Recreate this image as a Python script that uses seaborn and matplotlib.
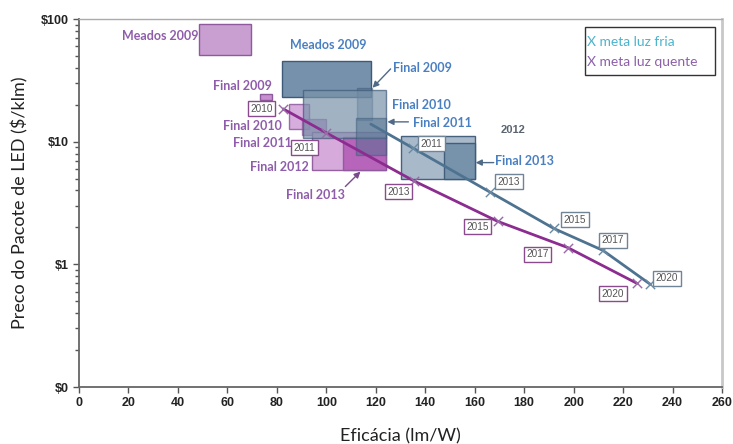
import matplotlib
matplotlib.use("Agg")
import matplotlib.pyplot as plt
from matplotlib.patches import Rectangle
import seaborn as sns
import pandas as pd

# ---------------- data ----------------
cool_years = ["2011", "2013", "2015", "2017", "2020"]
cool_eff = [134.9, 166.0, 192.0, 211.8, 230.9]
cool_price = [8.9, 3.9, 1.96, 1.30, 0.69]
cool_line_start = (118.0, 13.9)

warm_years = ["2010", "2011", "2013", "2015", "2017", "2020"]
warm_eff = [82.6, 100.0, 135.3, 169.3, 197.6, 225.6]
warm_price = [18.5, 11.8, 4.8, 2.24, 1.37, 0.70]

# year tag positions (eff, price)
cool_tag_x = [142.6, 173.8, 200.5, 215.9, 237.7]
cool_tag_y = [9.6, 4.7, 2.32, 1.57, 0.77]
warm_tag_x = [73.7, 91.1, 129.2, 161.2, 185.5, 215.9]
warm_tag_y = [18.5, 8.9, 3.9, 2.03, 1.21, 0.578]

# boxes: name, x0, x1, y0, y1
warm_box_names = ["Meados 2009", "Final 2009", "Final 2010", "Final 2011", "Final 2012", "Final 2013"]
warm_box_x0 = [48.6, 73.3, 85.0, 90.0, 94.4, 106.9]
warm_box_x1 = [69.7, 78.2, 93.2, 100.0, 124.3, 124.3]
warm_box_y0 = [51.0, 22.0, 12.7, 11.4, 5.9, 5.9]
warm_box_y1 = [91.0, 24.6, 20.4, 15.4, 12.0, 11.0]

cool_box_names = ["Meados 2009", "Final 2009", "Final 2010", "Final 2011", "2012", "Final 2013"]
cool_box_x0 = [82.2, 112.6, 90.7, 112.2, 130.0, 147.4]
cool_box_x1 = [117.9, 118.3, 124.3, 124.3, 160.0, 160.0]
cool_box_y0 = [23.2, 15.1, 10.8, 7.8, 5.0, 5.0]
cool_box_y1 = [45.5, 27.5, 26.5, 15.7, 11.2, 9.8]

x_ticks = list(range(0, 261, 20))
y_ticks = [0.1, 1, 10, 100]
y_tick_labels = ["\\$0", "\\$1", "\\$10", "\\$100"]

# ---------------- style ----------------
sns.set_theme(style="white")
plt.rcParams["font.family"] = ["Lato", "DejaVu Sans"]

PURPLE_TXT = "#8f5dab"
BLUE_TXT = "#4a80c2"
COOL_LINE = "#4e7391"
WARM_LINE = "#8c2c90"

fig = plt.figure(figsize=(7.33, 4.44), dpi=100)
ax = fig.add_axes([79 / 733, 1 - 387 / 444, (722 - 79) / 733, (387 - 19) / 444])
ax.set_yscale("log")
ax.set_xlim(0, 260)
ax.set_ylim(0.1, 100)

# warm boxes
warm_face = ["#c99fd2", "#c78fd0", "#cf9fd8", "#b877c4", "#d4a6d8", "#b562b9"]
warm_alpha = [1.0, 1.0, 0.85, 0.7, 0.95, 0.95]
for i in range(len(warm_box_names)):
    ax.add_patch(Rectangle((warm_box_x0[i], warm_box_y0[i]),
                           warm_box_x1[i] - warm_box_x0[i], warm_box_y1[i] - warm_box_y0[i],
                           facecolor=warm_face[i], edgecolor="#8e5a9c", lw=1.0,
                           alpha=warm_alpha[i], zorder=2))

# cool boxes
cool_face = ["#7691ab", "#4f6f8f", "#7a93aa", "#4e6f8f", "#a3b5c6", "#7590aa"]
cool_alpha = [1.0, 0.5, 0.7, 0.5, 0.95, 0.95]
for i in range(len(cool_box_names)):
    ax.add_patch(Rectangle((cool_box_x0[i], cool_box_y0[i]),
                           cool_box_x1[i] - cool_box_x0[i], cool_box_y1[i] - cool_box_y0[i],
                           facecolor=cool_face[i], edgecolor="#3d5a78", lw=1.0,
                           alpha=cool_alpha[i], zorder=3))

# lines
df_cool = pd.DataFrame({"eff": [cool_line_start[0]] + cool_eff,
                        "price": [cool_line_start[1]] + cool_price})
df_warm = pd.DataFrame({"eff": warm_eff, "price": warm_price})
sns.lineplot(data=df_cool, x="eff", y="price", sort=False, estimator=None,
             color=COOL_LINE, lw=2.0, ax=ax, zorder=5)
sns.lineplot(data=df_warm, x="eff", y="price", sort=False, estimator=None,
             color=WARM_LINE, lw=2.0, ax=ax, zorder=5)
sns.scatterplot(x=cool_eff, y=cool_price, marker="x", color="#6a8aa4", s=45,
                linewidth=1.0, ax=ax, zorder=6)
sns.scatterplot(x=warm_eff, y=warm_price, marker="x", color="#9a6aa6", s=45,
                linewidth=1.0, ax=ax, zorder=6)

# year tags
tag_family = ["Liberation Sans", "DejaVu Sans"]
for t, x, y in zip(cool_years, cool_tag_x, cool_tag_y):
    ax.text(x, y, t, fontsize=7.2, color="#555555", family=tag_family,
            ha="center", va="center", zorder=7,
            bbox=dict(boxstyle="square,pad=0.25", fc="white", ec="#6f8496", lw=1.0))
for t, x, y in zip(warm_years, warm_tag_x, warm_tag_y):
    ax.text(x, y, t, fontsize=7.2, color="#555555", family=tag_family,
            ha="center", va="center", zorder=7,
            bbox=dict(boxstyle="square,pad=0.25", fc="white", ec="#8a4a8e", lw=1.0))

# box annotations
fs = 9.0
ax.text(48.2, 72.9, "Meados 2009", color=PURPLE_TXT, fontsize=fs, fontweight="bold", ha="right", va="center")
ax.text(77.8, 28.5, "Final 2009", color=PURPLE_TXT, fontsize=fs, fontweight="bold", ha="right", va="center")
ax.text(82.2, 13.5, "Final 2010", color=PURPLE_TXT, fontsize=fs, fontweight="bold", ha="right", va="center")
ax.text(85.9, 9.8, "Final 2011", color=PURPLE_TXT, fontsize=fs, fontweight="bold", ha="right", va="center")
ax.text(92.8, 6.26, "Final 2012", color=PURPLE_TXT, fontsize=fs, fontweight="bold", ha="right", va="center")
ax.text(95.6, 3.7, "Final 2013", color=PURPLE_TXT, fontsize=fs, fontweight="bold", ha="center", va="center")

ax.text(100.8, 61.5, "Meados 2009", color=BLUE_TXT, fontsize=fs, fontweight="bold", ha="center", va="center")
ax.text(126.8, 40.0, "Final 2009", color=BLUE_TXT, fontsize=fs, fontweight="bold", ha="left", va="center")
ax.text(126.4, 20.0, "Final 2010", color=BLUE_TXT, fontsize=fs, fontweight="bold", ha="left", va="center")
ax.text(134.9, 14.3, "Final 2011", color=BLUE_TXT, fontsize=fs, fontweight="bold", ha="left", va="center")
ax.text(175.4, 12.5, "2012", color="#5b6470", fontsize=8, fontweight="heavy",
        family=["Liberation Sans", "DejaVu Sans"], ha="center", va="center")
ax.text(168.1, 7.0, "Final 2013", color=BLUE_TXT, fontsize=fs, fontweight="bold", ha="left", va="center")

arrow_blue = dict(arrowstyle="-|>", color="#4e6a86", lw=1.0, mutation_scale=9, shrinkA=0, shrinkB=0)
arrow_purple = dict(arrowstyle="-|>", color="#7a4a8c", lw=1.0, mutation_scale=9, shrinkA=0, shrinkB=0)
ax.annotate("", xy=(118.7, 27.5), xytext=(126.0, 39.2), arrowprops=arrow_blue, zorder=8)
ax.annotate("", xy=(124.7, 14.5), xytext=(133.2, 14.5), arrowprops=arrow_blue, zorder=8)
ax.annotate("", xy=(160.4, 6.75), xytext=(167.7, 6.75), arrowprops=arrow_blue, zorder=8)
ax.annotate("", xy=(113.8, 5.7), xytext=(107.7, 4.31), arrowprops=arrow_purple, zorder=8)

# legend box
ax.add_patch(Rectangle((0.787, 0.848), 0.202, 0.130, transform=ax.transAxes,
                       facecolor="white", edgecolor="#333333", lw=1.0, zorder=9))
ax.text(0.790, 0.9375, "X meta luz fria", transform=ax.transAxes, color="#4cb4cc",
        fontsize=10, ha="left", va="center", zorder=10)
ax.text(0.790, 0.883, "X meta luz quente", transform=ax.transAxes, color="#8e60aa",
        fontsize=10, ha="left", va="center", zorder=10)

# axes styling
ax.set_xticks(x_ticks)
ax.set_xticklabels([str(v) for v in x_ticks])
ax.set_yticks(y_ticks)
ax.set_yticklabels(y_tick_labels)
for lab in ax.get_xticklabels() + ax.get_yticklabels():
    lab.set_fontfamily(["Liberation Sans Narrow", "Liberation Sans", "DejaVu Sans"])
    lab.set_fontweight("bold")
    lab.set_fontsize(9)
    lab.set_color("#222222")
ax.tick_params(axis="both", which="major", direction="out", length=4, width=1.0, color="#555555",
               bottom=True, left=True, pad=3)
ax.tick_params(axis="y", which="minor", direction="out", length=3, width=1.0, color="#555555", left=True)
ax.grid(False)
for s in ["left", "bottom"]:
    ax.spines[s].set_color("#666666")
    ax.spines[s].set_linewidth(1.3)
ax.spines["top"].set_color("#aaaaaa")
ax.spines["top"].set_linewidth(1.0)
ax.spines["right"].set_color("#c8c8c8")
ax.spines["right"].set_linewidth(2.0)

ax.set_xlabel("Eficácia (lm/W)", fontsize=13, color="#222222", labelpad=14)
ax.set_ylabel("Preco do Pacote de LED (\\$/klm)", fontsize=13, color="#222222", labelpad=9)

fig.savefig("out.png", dpi=100)
